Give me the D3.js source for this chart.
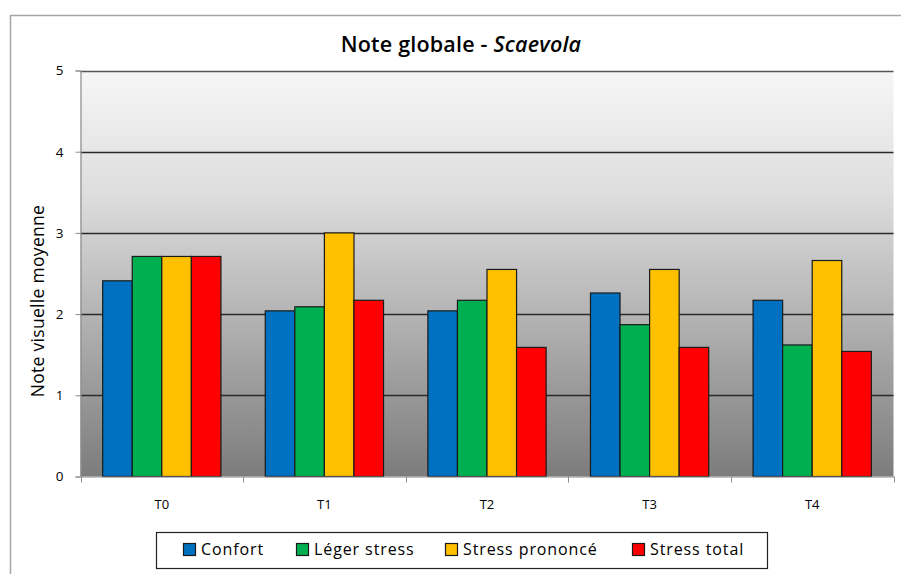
<!DOCTYPE html>
<html>
<head>
<meta charset="utf-8">
<script src="https://cdn.jsdelivr.net/npm/d3@7"></script>
<style>
  html, body { margin: 0; padding: 0; background: #fff; }
  svg { display: block; font-family: "Open Sans", Lato, sans-serif; }
</style>
</head>
<body>
<svg id="chart" width="901" height="574"></svg>
<script>
// Mean visual score per time point and stress class
const categories = ["T0", "T1", "T2", "T3", "T4"];
const seriesNames = ["Confort", "Léger stress", "Stress prononcé", "Stress total"];
const confort = [2.41, 2.04, 2.04, 2.26, 2.17];
const legerStress = [2.71, 2.09, 2.17, 1.87, 1.62];
const stressPrononce = [2.71, 3.0, 2.55, 2.55, 2.66];
const stressTotal = [2.71, 2.17, 1.59, 1.59, 1.54];
const yTicks = [0, 1, 2, 3, 4, 5];
const colors = ["#0070c0", "#00b050", "#ffc000", "#ff0000"];

const seriesValues = [confort, legerStress, stressPrononce, stressTotal];

const svg = d3.select("#chart");
const plot = { left: 80.5, right: 893.5, top: 70.5, bottom: 476.5 };

// outer frame of the chart area
svg.append("rect")
  .attr("x", 10.5).attr("y", 15.5)
  .attr("width", 960).attr("height", 640)
  .attr("fill", "#fff").attr("stroke", "#a6a6a6").attr("stroke-width", 1.5);

// background gradient of the plot area
const defs = svg.append("defs");
const grad = defs.append("linearGradient")
  .attr("id", "plotBg").attr("x1", 0).attr("y1", 0).attr("x2", 0).attr("y2", 1);
grad.append("stop").attr("offset", "0%").attr("stop-color", "#f6f6f6");
grad.append("stop").attr("offset", "30%").attr("stop-color", "#dedede");
grad.append("stop").attr("offset", "100%").attr("stop-color", "#7c7c7c");

const x0 = d3.scaleBand().domain(categories).range([plot.left, plot.right]).padding(0);
const x1 = d3.scaleBand().domain(seriesNames).range([0, x0.bandwidth()])
  .paddingInner(0).paddingOuter(0.75);
const y = d3.scaleLinear().domain([0, 5]).range([plot.bottom, plot.top]);

svg.append("rect")
  .attr("x", plot.left).attr("y", plot.top)
  .attr("width", plot.right - plot.left).attr("height", plot.bottom - plot.top)
  .attr("fill", "url(#plotBg)");

// horizontal gridlines
svg.append("g")
  .selectAll("line")
  .data(yTicks.filter(d => d > 0))
  .join("line")
  .attr("x1", plot.left).attr("x2", plot.right)
  .attr("y1", d => Math.round(y(d)) + 0.5).attr("y2", d => Math.round(y(d)) + 0.5)
  .attr("stroke", d => d === 5 ? "#555" : "#2a2a2a")
  .attr("stroke-width", 1.3);

// bars
const groups = svg.append("g")
  .selectAll("g")
  .data(categories)
  .join("g")
  .attr("transform", d => `translate(${x0(d)},0)`);

groups.selectAll("rect")
  .data((c, i) => seriesNames.map((s, k) => ({ s, k, v: seriesValues[k][i] })))
  .join("rect")
  .attr("x", d => x1(d.s))
  .attr("y", d => y(d.v))
  .attr("width", x1.bandwidth())
  .attr("height", d => y(0) - y(d.v))
  .attr("fill", d => colors[d.k])
  .attr("stroke", "#1a1a1a")
  .attr("stroke-width", 1.2);

// y axis
const yAxis = svg.append("g")
  .attr("transform", `translate(${plot.left},0)`)
  .call(d3.axisLeft(y).tickValues(yTicks).tickSize(5).tickPadding(12).tickFormat(d3.format("d")));
yAxis.select(".domain").attr("stroke", "#8c8c8c").attr("stroke-width", 1.2);
yAxis.selectAll(".tick line").attr("stroke", "#8c8c8c");
yAxis.selectAll(".tick text").attr("font-size", 13.5).attr("fill", "#000")
  .attr("font-family", "'Open Sans', sans-serif");

// x axis
const xAxis = svg.append("g")
  .attr("transform", `translate(0,${plot.bottom})`)
  .call(d3.axisBottom(x0).tickSize(0).tickPadding(23));
xAxis.select(".domain").attr("stroke", "#8c8c8c").attr("stroke-width", 1.2);
xAxis.selectAll(".tick text").attr("font-size", 13).attr("fill", "#000")
  .attr("font-family", "'Open Sans', sans-serif");

// category separators below the axis
const bounds = categories.map(c => x0(c)).concat([plot.right]);
svg.append("g")
  .selectAll("line")
  .data(bounds)
  .join("line")
  .attr("x1", d => Math.round(d) + 0.5).attr("x2", d => Math.round(d) + 0.5)
  .attr("y1", plot.bottom).attr("y2", plot.bottom + 6)
  .attr("stroke", "#8c8c8c");

// title
const title = svg.append("text")
  .attr("x", 461).attr("y", 52)
  .attr("text-anchor", "middle")
  .attr("font-size", 21.5).attr("font-weight", 600).attr("fill", "#000")
  .attr("letter-spacing", 0.2);
title.append("tspan").text("Note globale - ");
title.append("tspan").attr("font-style", "italic").text("Scaevola");

// y axis label
svg.append("text")
  .attr("transform", `translate(44,301) rotate(-90)`)
  .attr("text-anchor", "middle")
  .attr("font-size", 17.5).attr("font-weight", 500).attr("fill", "#000")
  .attr("letter-spacing", 0.3)
  .text("Note visuelle moyenne");

// legend
const legend = svg.append("g");
legend.append("rect")
  .attr("x", 156.5).attr("y", 532.5).attr("width", 611).attr("height", 36)
  .attr("fill", "#fff").attr("stroke", "#222").attr("stroke-width", 1.2);
const legendX = [183, 296, 445, 632];
const items = legend.selectAll("g.item")
  .data(seriesNames)
  .join("g")
  .attr("class", "item")
  .attr("transform", (d, i) => `translate(${legendX[i]},0)`);
items.append("rect")
  .attr("x", 0.5).attr("y", 543.5).attr("width", 12).attr("height", 12)
  .attr("fill", (d, i) => colors[i]).attr("stroke", "#1a1a1a").attr("stroke-width", 1.2);
items.append("text")
  .attr("x", 18).attr("y", 555)
  .attr("font-size", 16).attr("fill", "#000")
  .attr("letter-spacing", 0.9)
  .text(d => d);
</script>
</body>
</html>
